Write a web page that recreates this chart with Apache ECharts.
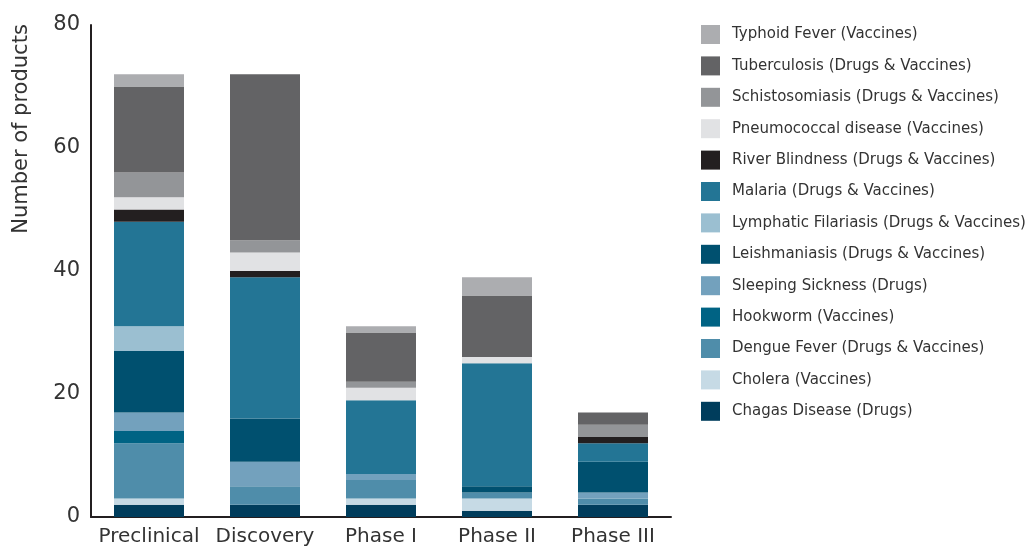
<!DOCTYPE html>
<html>
<head>
<meta charset="utf-8">
<script src="https://cdn.jsdelivr.net/npm/echarts@6/dist/echarts.min.js"></script>
<style>html,body{margin:0;padding:0;background:#fff}#c{width:1031px;height:547px}</style>
</head>
<body>
<div id="c"></div>
<script>
const categories = ['Preclinical', 'Discovery', 'Phase I', 'Phase II', 'Phase III'];
const yTicks = [0, 20, 40, 60, 80];

// bottom to top stacking order
const chagas        = [2, 2, 2, 1, 2];
const cholera       = [1, 0, 1, 2, 0];
const dengue        = [9, 3, 3, 1, 1];
const hookworm      = [2, 0, 0, 0, 0];
const sleeping      = [3, 4, 1, 0, 1];
const leishmaniasis = [10, 7, 0, 1, 5];
const lymphatic     = [4, 0, 0, 0, 0];
const malaria       = [17, 23, 12, 20, 3];
const riverBlind    = [2, 1, 0, 0, 1];
const pneumococcal  = [2, 3, 2, 1, 0];
const schisto       = [4, 2, 1, 0, 2];
const tuberculosis  = [14, 27, 8, 10, 2];
const typhoid       = [2, 0, 1, 3, 0];

const seriesDefs = [
  ['Chagas Disease (Drugs)', chagas, '#003d5c'],
  ['Cholera (Vaccines)', cholera, '#c6dae5'],
  ['Dengue Fever (Drugs & Vaccines)', dengue, '#4f8daa'],
  ['Hookworm (Vaccines)', hookworm, '#006384'],
  ['Sleeping Sickness (Drugs)', sleeping, '#73a1bd'],
  ['Leishmaniasis (Drugs & Vaccines)', leishmaniasis, '#00506f'],
  ['Lymphatic Filariasis (Drugs & Vaccines)', lymphatic, '#9bbfd1'],
  ['Malaria (Drugs & Vaccines)', malaria, '#237595'],
  ['River Blindness (Drugs & Vaccines)', riverBlind, '#231f20'],
  ['Pneumococcal disease (Vaccines)', pneumococcal, '#e1e2e4'],
  ['Schistosomiasis (Drugs & Vaccines)', schisto, '#939598'],
  ['Tuberculosis (Drugs & Vaccines)', tuberculosis, '#636365'],
  ['Typhoid Fever (Vaccines)', typhoid, '#acadb0']
];

const font = 'DejaVu Sans';
const chart = echarts.init(document.getElementById('c'));
chart.setOption({
  animation: false,
  textStyle: { fontFamily: font },
  grid: { left: 91, right: 360, top: 25, bottom: 30, containLabel: false },
  legend: {
    orient: 'vertical',
    left: 701,
    top: 25,
    padding: 0,
    itemWidth: 19,
    itemHeight: 19,
    itemGap: 12.4,
    icon: 'rect',
    data: seriesDefs.map(d => d[0]).reverse(),
    textStyle: { fontSize: 15, color: '#333', fontFamily: font, padding: [0, 0, 0, 7] }
  },
  graphic: [{
    type: 'text',
    x: 22, y: 129,
    rotation: Math.PI / 2,
    style: {
      text: 'Number of products',
      fontSize: 21, fill: '#333', fontFamily: font,
      textAlign: 'center', textVerticalAlign: 'middle'
    }
  }],
  xAxis: {
    type: 'category',
    data: categories,
    axisLine: { lineStyle: { color: '#231f20', width: 2 } },
    axisTick: { show: false },
    axisLabel: { interval: 0, fontSize: 20, color: '#333', margin: 10, fontFamily: font }
  },
  yAxis: {
    type: 'value',
    min: yTicks[0], max: yTicks[yTicks.length - 1], interval: 20,
    axisLine: { show: true, lineStyle: { color: '#231f20', width: 2 } },
    axisTick: { show: false },
    splitLine: { show: false },
    axisLabel: { fontSize: 21, color: '#333', margin: 11, fontFamily: font }
  },
  series: seriesDefs.map(d => ({
    name: d[0],
    type: 'bar',
    stack: 'total',
    barWidth: 70,
    data: d[1],
    itemStyle: { color: d[2] }
  }))
});
</script>
</body>
</html>
